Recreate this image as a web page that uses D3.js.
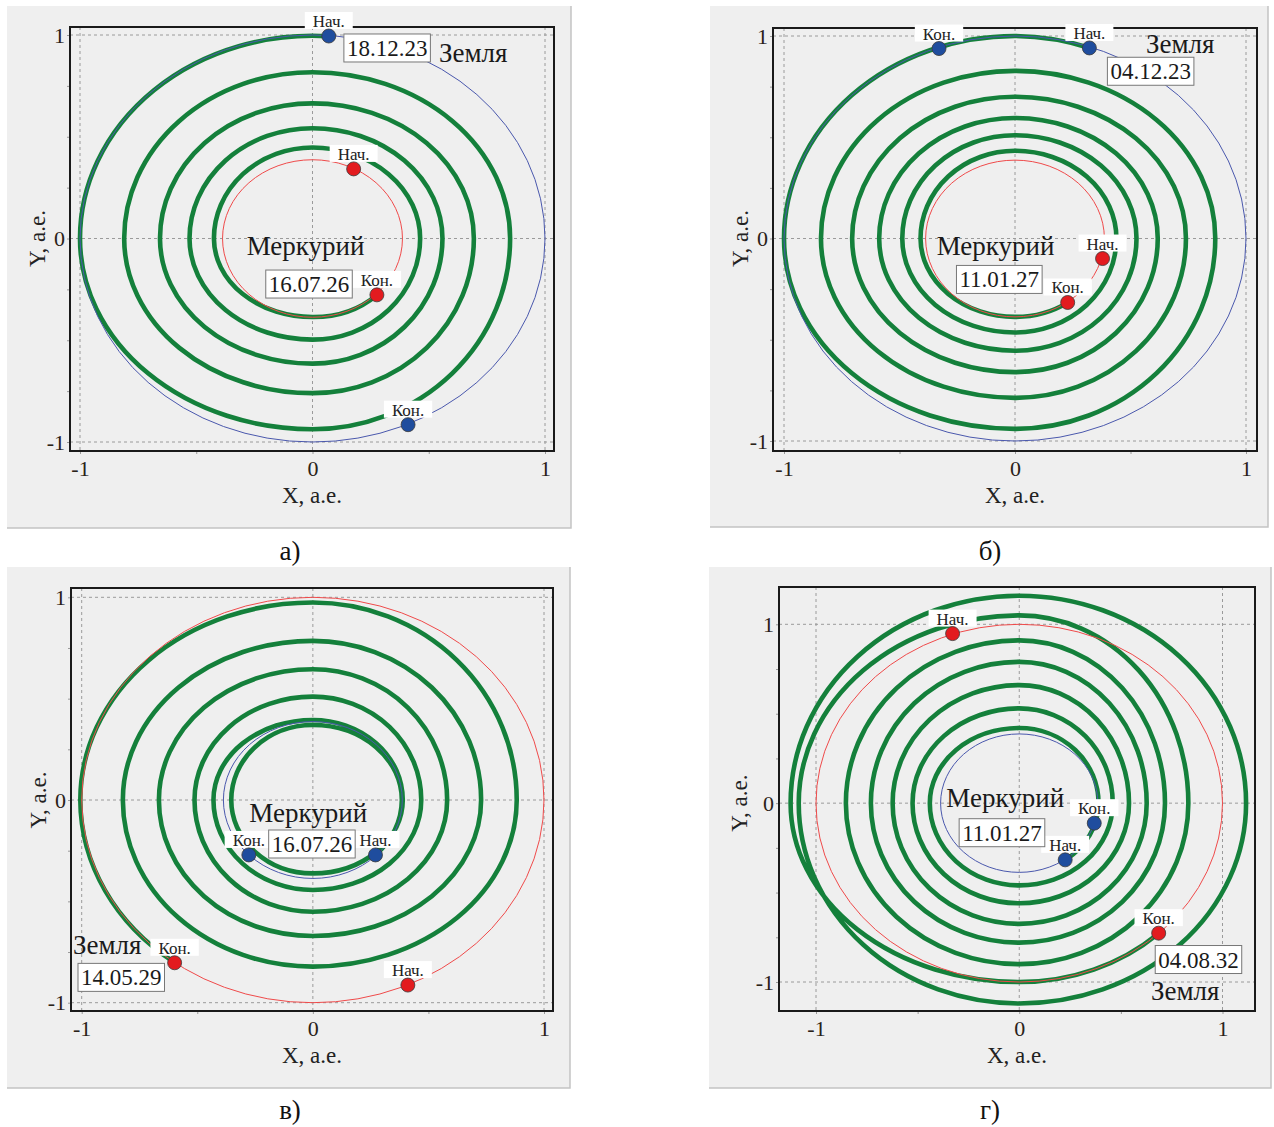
<!DOCTYPE html>
<html lang="ru">
<head>
<meta charset="UTF-8">
<title>Траектории Земля – Меркурий</title>
<script src="https://d3js.org/d3.v7.min.js"></script>
<style>
  body { margin: 0; background: #fff; }
  svg { display: block; font-family: "Liberation Serif", "Times New Roman", serif; }
</style>
</head>
<body>
<svg id="chart"></svg>
<script>
// --- data ---
// spiral samples: [polar angle in degrees, unwound CCW from +X; radius, a.e.]
const spiralA = [[86, 0.996], [180, 1.0], [270, 0.937], [360, 0.85], [450, 0.817], [540, 0.81],
  [630, 0.76], [720, 0.694], [810, 0.664], [900, 0.656], [990, 0.615], [1080, 0.559],
  [1170, 0.542], [1260, 0.529], [1350, 0.497], [1440, 0.463], [1530, 0.447], [1620, 0.424],
  [1710, 0.386], [1755, 0.392]];
const spiralB = [[71, 0.995], [90, 1.0], [180, 1.0], [270, 0.94], [360, 0.867], [450, 0.828],
  [540, 0.84], [630, 0.787], [720, 0.74], [810, 0.70], [900, 0.705], [990, 0.66], [1080, 0.618],
  [1170, 0.595], [1260, 0.588], [1350, 0.554], [1440, 0.526], [1530, 0.51], [1620, 0.488],
  [1710, 0.464], [1800, 0.439], [1890, 0.433], [1980, 0.409], [2070, 0.387], [2106, 0.39]];
const spiralC = [[-45, 0.383], [0, 0.385], [90, 0.37], [180, 0.353], [270, 0.362], [360, 0.389],
  [450, 0.395], [540, 0.43], [630, 0.444], [720, 0.469], [810, 0.51], [900, 0.512], [990, 0.551],
  [1080, 0.581], [1170, 0.645], [1260, 0.666], [1350, 0.671], [1440, 0.728], [1530, 0.785],
  [1620, 0.822], [1710, 0.822], [1800, 0.882], [1890, 0.974], [1980, 1.006], [2033, 1.0]];
const spiralD = [[-54.5, 0.39], [0, 0.39], [90, 0.42], [180, 0.44], [270, 0.46], [360, 0.46],
  [450, 0.53], [540, 0.525], [630, 0.56], [720, 0.54], [810, 0.66], [900, 0.623], [990, 0.675],
  [1080, 0.627], [1170, 0.79], [1260, 0.73], [1350, 0.78], [1440, 0.717], [1530, 0.91],
  [1620, 0.853], [1710, 0.9], [1800, 0.832], [1890, 1.05], [1980, 1.085], [2070, 1.12],
  [2160, 1.116], [2250, 1.16], [2340, 1.125], [2430, 1.0], [2473, 1.0]];

// orbit radii, a.e.
const orbitEarth = 1.0;
const orbitMercury = 0.387;

// position markers: [body, label, X, Y]
const marksA = [["earth", "Нач.", 0.07, 0.995], ["earth", "Кон.", 0.411, -0.915],
  ["mercury", "Нач.", 0.177, 0.342], ["mercury", "Кон.", 0.277, -0.277]];
const marksB = [["earth", "Нач.", 0.322, 0.941], ["earth", "Кон.", -0.329, 0.938],
  ["mercury", "Нач.", 0.379, -0.099], ["mercury", "Кон.", 0.228, -0.316]];
const marksC = [["mercury", "Нач.", 0.271, -0.271], ["mercury", "Кон.", -0.277, -0.271],
  ["earth", "Нач.", 0.411, -0.913], ["earth", "Кон.", -0.598, -0.803]];
const marksD = [["mercury", "Нач.", 0.226, -0.317], ["mercury", "Кон.", 0.369, -0.112],
  ["earth", "Нач.", -0.328, 0.948], ["earth", "Кон.", 0.686, -0.727]];

// planet names: [text, X, Y baseline, anchor]
const namesA = [["Земля", 0.544, 0.867, "start"], ["Меркурий", -0.03, -0.081, "middle"]];
const namesB = [["Земля", 0.567, 0.915, "start"], ["Меркурий", -0.084, -0.082, "middle"]];
const namesC = [["Земля", -1.038, -0.76, "start"], ["Меркурий", -0.02, -0.109, "middle"]];
const namesD = [["Земля", 0.648, -1.098, "start"], ["Меркурий", -0.069, -0.024, "middle"]];

// dates in boxes: [text, X, Y top, anchor]
const datesA = [["18.12.23", 0.135, 1.005, "start"], ["16.07.26", -0.015, -0.155, "middle"]];
const datesB = [["04.12.23", 0.40, 0.895, "start"], ["11.01.27", -0.068, -0.133, "middle"]];
const datesC = [["16.07.26", -0.004, -0.148, "middle"], ["14.05.29", -1.016, -0.806, "start"]];
const datesD = [["11.01.27", -0.085, -0.087, "middle"], ["04.08.32", 0.669, -0.796, "start"]];

const majorTicks = [-1, 0, 1];
const minorTicksX = [-1, -0.5, 0, 0.5, 1];
const minorTicksY = [-1, -0.75, -0.5, -0.25, 0, 0.25, 0.5, 0.75, 1];
const captions = ["а)", "б)", "в)", "г)"];

// --- layout ---
const W = 1274, H = 1127;
const panels = [
  { spiral: spiralA, marks: marksA, names: namesA, dates: datesA, earthBlue: true,
    bg: [7, 6, 571, 528], frame: [70, 27, 554, 451], gx: [80, 545], gy: [442, 35], cap: [290, 560], ytDx: -33 },
  { spiral: spiralB, marks: marksB, names: namesB, dates: datesB, earthBlue: true,
    bg: [710, 6, 1268, 527], frame: [773, 28, 1257, 451], gx: [784, 1246], gy: [441, 36], cap: [990, 560], ytDx: -33 },
  { spiral: spiralC, marks: marksC, names: namesC, dates: datesC, earthBlue: false,
    bg: [7, 567, 570, 1088], frame: [71, 588, 553, 1011], gx: [81.7, 544], gy: [1002.7, 597.3], cap: [290, 1119], ytDx: -33 },
  { spiral: spiralD, marks: marksD, names: namesD, dates: datesD, earthBlue: false,
    bg: [709, 567, 1271, 1088], frame: [779, 587, 1255, 1011], gx: [816, 1222.5], gy: [982, 624.3], cap: [990, 1119], ytDx: -40 }
];

const BLUE_LINE = "#4a58ad", RED_LINE = "#ef4a4a";
const BLUE_DOT = "#1f4d9e", RED_DOT = "#e31b1f";
const GREEN = "#14803b";

const svg = d3.select("#chart").attr("width", W).attr("height", H);

// quarter-ellipse arcs between axis crossings of the spiral
function spiralPath(pts, x, y) {
  const rad = Math.PI / 180;
  const P = pts.map(([a, r]) => ({ a, r, X: r * Math.cos(a * rad), Y: r * Math.sin(a * rad) }));
  let d = `M${x(P[0].X)},${y(P[0].Y)}`;
  for (let i = 1; i < P.length; i++) {
    const p0 = P[i - 1], p1 = P[i];
    const ax = Math.abs(Math.sin(p0.a * rad)) <= Math.abs(Math.sin(p1.a * rad)) ? p0.r : p1.r;
    const by = Math.abs(Math.cos(p0.a * rad)) <= Math.abs(Math.cos(p1.a * rad)) ? p0.r : p1.r;
    const rx = Math.abs(x(ax) - x(0)), ry = Math.abs(y(0) - y(by));
    d += `A${rx},${ry} 0 0 0 ${x(p1.X)},${y(p1.Y)}`;
  }
  return d;
}

panels.forEach((p, i) => {
  const g = svg.append("g");
  const [bx0, by0, bx1, by1] = p.bg;
  const [fx0, fy0, fx1, fy1] = p.frame;
  const x = d3.scaleLinear().domain([-1, 1]).range(p.gx);
  const y = d3.scaleLinear().domain([-1, 1]).range(p.gy);

  // panel background with light edge
  g.append("rect").attr("x", bx0).attr("y", by0).attr("width", bx1 - bx0).attr("height", by1 - by0)
    .attr("fill", "#efefef");
  g.append("path").attr("d", `M${bx1},${by0}V${by1}H${bx0}`).attr("fill", "none")
    .attr("stroke", "#c4c4c4").attr("stroke-width", 1.5);

  // grid
  const clipId = "clip" + i;
  g.append("clipPath").attr("id", clipId).append("rect")
    .attr("x", fx0).attr("y", fy0).attr("width", fx1 - fx0).attr("height", fy1 - fy0);
  const grid = g.append("g").attr("stroke", "#9a9a9a").attr("stroke-dasharray", "3,3").attr("stroke-width", 1);
  majorTicks.forEach(v => {
    grid.append("line").attr("x1", x(v)).attr("x2", x(v)).attr("y1", fy0).attr("y2", fy1);
    grid.append("line").attr("y1", y(v)).attr("y2", y(v)).attr("x1", fx0).attr("x2", fx1);
  });

  // minor tick marks
  const ax = g.append("g").attr("transform", `translate(0,${fy1})`)
    .call(d3.axisBottom(x).tickValues(minorTicksX).tickSize(3).tickFormat(""));
  const ay = g.append("g").attr("transform", `translate(${fx0},0)`)
    .call(d3.axisLeft(y).tickValues(minorTicksY).tickSize(3).tickFormat(""));
  [ax, ay].forEach(a => { a.select(".domain").remove(); a.selectAll("line").attr("stroke", "#9a9a9a"); });

  // tick labels
  const lx = g.append("g").attr("transform", `translate(0,${fy1 + 3})`)
    .call(d3.axisBottom(x).tickValues(majorTicks).tickSize(0).tickPadding(6).tickFormat(d => String(d)));
  const ly = g.append("g").attr("transform", `translate(${fx0 - 2},0)`)
    .call(d3.axisLeft(y).tickValues(majorTicks).tickSize(0).tickPadding(3).tickFormat(d => String(d)));
  [lx, ly].forEach(a => {
    a.select(".domain").remove();
    a.selectAll("text").attr("font-family", "Liberation Serif, serif").attr("font-size", 22).attr("fill", "#2a2218");
  });

  // axis titles
  g.append("text").attr("x", (fx0 + fx1) / 2).attr("y", fy1 + 52).attr("text-anchor", "middle")
    .attr("font-size", 23).attr("fill", "#222").text("X, а.е.");
  g.append("text").attr("transform", `translate(${fx0 + p.ytDx},${y(0)}) rotate(-90)`)
    .attr("text-anchor", "middle").attr("dy", "0.35em")
    .attr("font-size", 23).attr("fill", "#222").text("Y, а.е.");

  // plot contents
  const plot = g.append("g").attr("clip-path", `url(#${clipId})`);
  plot.append("path").attr("d", spiralPath(p.spiral, x, y)).attr("fill", "none")
    .attr("stroke", GREEN).attr("stroke-width", 4.6).attr("stroke-linecap", "round");

  const earthLine = p.earthBlue ? BLUE_LINE : RED_LINE;
  const mercLine = p.earthBlue ? RED_LINE : BLUE_LINE;
  [[orbitEarth, earthLine], [orbitMercury, mercLine]].forEach(([r, c]) => {
    plot.append("ellipse").attr("cx", x(0)).attr("cy", y(0))
      .attr("rx", x(r) - x(0)).attr("ry", y(0) - y(r))
      .attr("fill", "none").attr("stroke", c).attr("stroke-width", 1);
  });

  // frame
  g.append("rect").attr("x", fx0).attr("y", fy0).attr("width", fx1 - fx0).attr("height", fy1 - fy0)
    .attr("fill", "none").attr("stroke", "#1a1a1a").attr("stroke-width", 2);

  // markers with labels
  p.marks.forEach(([body, label, mx, my]) => {
    const isBlue = (body === "earth") === p.earthBlue;
    const cx = x(mx), cy = y(my);
    const t = g.append("text").attr("x", cx).attr("y", cy - 9).attr("text-anchor", "middle")
      .attr("font-size", 17).attr("fill", "#222").text(label);
    const bb = t.node().getBBox();
    g.insert("rect", () => t.node()).attr("x", bb.x - 8).attr("y", cy - 24)
      .attr("width", bb.width + 16).attr("height", 17).attr("fill", "#fff");
    g.append("circle").attr("cx", cx).attr("cy", cy).attr("r", 7)
      .attr("fill", isBlue ? BLUE_DOT : RED_DOT).attr("stroke", "#3a3a3a").attr("stroke-width", 0.8);
  });

  // dates in boxes
  p.dates.forEach(([txt, dx, dy, anchor]) => {
    const t = g.append("text").attr("x", x(dx) + (anchor === "start" ? 3 : 0)).attr("y", y(dy) + 22)
      .attr("text-anchor", anchor).attr("font-size", 23).attr("fill", "#1a1a1a").text(txt);
    const bb = t.node().getBBox();
    g.insert("rect", () => t.node()).attr("x", bb.x - 3).attr("y", y(dy))
      .attr("width", bb.width + 6).attr("height", 28)
      .attr("fill", "#fff").attr("stroke", "#777").attr("stroke-width", 1);
  });

  // planet names
  p.names.forEach(([txt, nx, ny, anchor]) => {
    g.append("text").attr("x", x(nx)).attr("y", y(ny)).attr("text-anchor", anchor)
      .attr("font-size", 27).attr("fill", "#1a1a1a").text(txt);
  });

  // caption
  svg.append("text").attr("x", p.cap[0]).attr("y", p.cap[1]).attr("text-anchor", "middle")
    .attr("font-size", 27).attr("fill", "#111").text(captions[i]);
});
</script>
</body>
</html>
